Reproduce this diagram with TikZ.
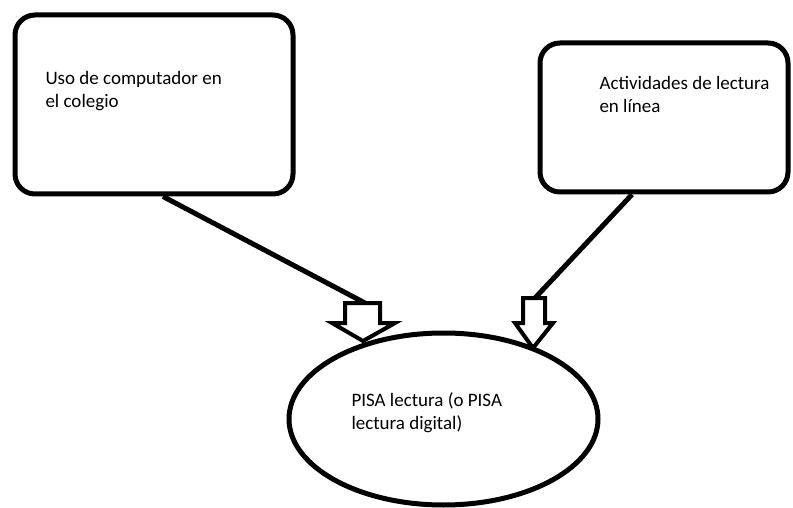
\documentclass[tikz,border=0pt]{standalone}
\usepackage{fontspec}
\setmainfont{Carlito}
\usetikzlibrary{shapes.geometric}

\begin{document}
\begin{tikzpicture}[x=1pt,y=-1pt,line width=5pt,
    caja/.style={draw,rectangle,rounded corners=20pt,inner sep=0pt},
    texto/.style={anchor=base west,align=left,inner sep=0pt,
      font=\fontsize{19}{23}\selectfont},
    flecha/.style={draw,line width=4pt,fill=white,miter limit=4}]
      \useasboundingbox (0,0) rectangle (793,508);
      \node[caja, minimum width=278pt, minimum height=179pt] (uso) at (154,104.5) {};
      \node[caja, minimum width=248pt, minimum height=149pt] (lectura) at (664,117.5) {};
      \node[draw, ellipse, inner sep=0pt, minimum width=309pt, minimum height=172pt]
        (pisa) at (443.5,419) {};
      \node[texto] (usotxt) at (43,108) {Uso de computador en\\el colegio};
      \node[texto] (lecturatxt) at (597,113) {Actividades de lectura\\en línea};
      \node[texto] (pisatxt) at (349,429) {PISA lectura (o PISA\\lectura digital)};

      % flechas huecas
      \draw[flecha] (345,303) -- (380,303) -- (380,323) -- (395,323) -- (363,341)
        -- (332,323) -- (345,323) -- cycle;
      \coordinate (colaL) at (365,303);
      \draw[flecha] (523,298) -- (545,298) -- (545,323) -- (553,323) -- (533,348)
        -- (515,323) -- (523,323) -- cycle;
      \coordinate (colaR) at (535,298);

      \draw ([xshift=9pt]uso.south) -- (colaL);
      \draw ([xshift=-32pt]lectura.south) -- (colaR);
    \end{tikzpicture}
\end{document}
